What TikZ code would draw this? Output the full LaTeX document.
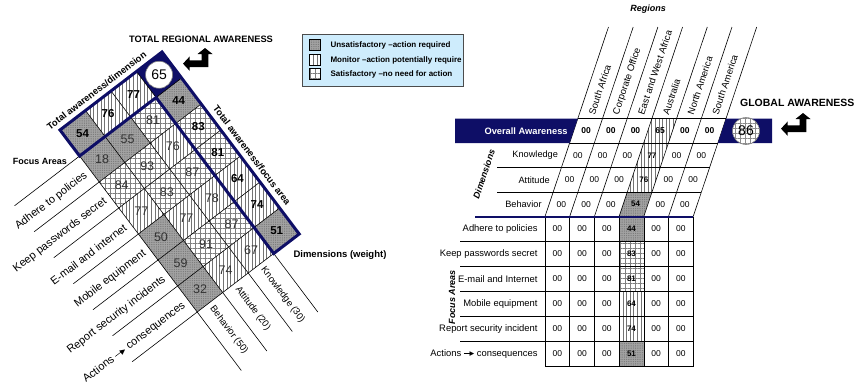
\documentclass[tikz,border=0pt]{standalone}
\usepackage{fontspec}
\setmainfont{Liberation Sans}
\newfontfamily\dejavu{DejaVu Sans}
\usetikzlibrary{patterns.meta}
\definecolor{navy}{RGB}{14,14,102}
\definecolor{legendblue}{RGB}{206,236,252}
\newcommand\fsz[1]{\fontsize{#1}{#1}\selectfont}
\newcommand\actarrow{\rule[0.28em]{0.85em}{0.45pt}\kern-0.25em{\dejavu\char"25B8}}
% bent double-headed arrow; the two arguments give its upper tip
\newcommand\bentarrow[2]{%
  \fill[black] (#1,#2) -- ++(7.5,6) -- ++(-4.15,0) -- ++(0,13) -- ++(-18.65,0)
    -- ++(0,3.85) -- ++(-6.7,-7.2) -- ++(6.7,-7.2) -- ++(0,3.85) -- ++(11.95,0)
    -- ++(0,-6.3) -- ++(-4.15,0) -- cycle;}

\begin{document}
\begin{tikzpicture}[x=1pt,y=-1pt,
  cellbad/.style={preaction={fill=black!36}, pattern={Dots[distance=1.8pt,radius=0.4pt]}, pattern color=black!62},
  cellmon/.style={preaction={fill=white}, pattern={Lines[angle=90,distance=3.6pt,line width=0.5pt]}, pattern color=black!55},
  cellok/.style={preaction={fill=white}, pattern={Hatch[distance=5pt,line width=0.5pt]}, pattern color=black!50},
  gline/.style={draw=black, line width=0.6pt},
  lab/.style={inner sep=1pt}
]
\useasboundingbox (0,0) rectangle (857,383);

% ---------- left: rotated score grid ----------
\begin{scope}[shift={(162,52)}, x={(19.6pt,-26pt)}, y={(-25.5pt,-19.5pt)}]
  \foreach \i/\j/\s in {0/1/cellmon,0/2/cellmon,0/3/cellbad,
     1/0/cellbad,1/1/cellok,1/2/cellbad,1/3/cellbad,
     2/0/cellok,2/1/cellmon,2/2/cellok,2/3/cellok,
     3/0/cellok,3/1/cellok,3/2/cellok,3/3/cellmon,
     4/0/cellmon,4/1/cellmon,4/2/cellmon,4/3/cellbad,
     5/0/cellmon,5/1/cellok,5/2/cellok,5/3/cellbad,
     6/0/cellbad,6/1/cellmon,6/2/cellmon,6/3/cellbad}
    \path[\s] (\i,\j) -- ++(1,0) -- ++(0,1) -- ++(-1,0) -- cycle;
  \fill[navy] (0,0) -- (1,0) -- (1,1) -- (0,1) -- cycle;
  \foreach \i in {1,...,7} \draw[gline] (\i,0) -- (\i,4);
  \foreach \j in {1,...,4} \draw[gline] (0,\j) -- (7,\j);
  % leader lines for the labels
  \foreach \i in {1,...,7} \draw[gline] (\i,4) -- (\i,6.55);
  \foreach \j in {1,...,4} \draw[gline] (7,\j) -- (9.25,\j);
  % totals frame
  \draw[navy, line width=3pt, line join=miter]
    (0,0) -- (0,4) -- (1,4) -- (1,1) -- (7,1) -- (7,0) -- cycle;
  \node[circle, fill=white, draw=black!50, line width=0.6pt, minimum size=27pt,
        inner sep=0pt, font=\fsz{14}] (ctot) at (0.5,0.5) {65};
  \foreach \i/\j/\v in {1/1/81,1/2/55,1/3/18,2/1/76,2/2/93,2/3/84,3/1/87,3/2/83,3/3/77,
                        4/1/78,4/2/77,4/3/50,5/1/87,5/2/91,5/3/59,6/1/67,6/2/74,6/3/32}
    \node[font=\fsz{12.5}, text=black!80] (c\i\j) at (\i+0.5,\j+0.5) {\v};
  \foreach \i/\j/\v in {0/1/77,0/2/76,0/3/54,1/0/44,2/0/83,3/0/81,4/0/64,5/0/74,6/0/51}
    \node[font=\bfseries\fsz{11.5}] (c\i\j) at (\i+0.5,\j+0.5) {\v};
  \foreach \i/\t in {1/Adhere to policies,2/Keep passwords secret,3/E-mail and internet,
                     4/Mobile equipment,5/Report security incidents,6/Actions \actarrow{} consequences}
    \node[lab, anchor=east, rotate=37.4, font=\fsz{11}] (fa\i) at (\i+0.57,4.15) {\t};
  \foreach \j/\t in {1/Knowledge (30),2/Attitude (20),3/Behavior (50)}
    \node[lab, anchor=west, rotate=-53, font=\fsz{9.5}] (dm\j) at (7.12,\j+0.55) {\t};
  \node[rotate=37.4, font=\bfseries\fsz{9.4}] (tad) at (-0.28,2.35) {Total awareness/dimension};
  \node[rotate=-53, font=\bfseries\fsz{9.4}] (taf) at (4.2,-0.3) {Total awareness/focus area};
\end{scope}
\node[font=\bfseries\fsz{9}] (focusL) at (40,161) {Focus Areas};
\node[anchor=west, font=\bfseries\fsz{9.5}] (dimsL) at (290,255) {Dimensions (weight)};
\node[font=\bfseries\fsz{9.3}] (regTitle) at (201,39) {TOTAL REGIONAL AWARENESS};
\bentarrow{205}{48}

% ---------- legend ----------
\node[draw=black!70, fill=legendblue, minimum width=161pt, minimum height=52pt,
      anchor=north west, inner sep=0pt] (legend) at (302,34) {};
\path[cellbad, draw=black, line width=0.5pt] (309,39.5) rectangle (320,50.5);
\path[cellmon, draw=black, line width=0.5pt] (309,54) rectangle (320,65);
\path[cellok, draw=black, line width=0.5pt] (309,68.5) rectangle (320,79.5);
\node[anchor=west, font=\bfseries\fsz{8}] (lg1) at (327,45.5) {Unsatisfactory –action required};
\node[anchor=west, font=\bfseries\fsz{8}] (lg2) at (327,60) {Monitor –action potentially require};
\node[anchor=west, font=\bfseries\fsz{8}] (lg3) at (327,74.5) {Satisfactory –no need for action};

% ---------- right: regional table ----------
\node[font=\bfseries\itshape\fsz{9}] (regions) at (648,9) {Regions};
\begin{scope}[shift={(545,216.5)}, x={(24.7pt,0pt)}, y={(-0.335pt,-1pt)}]
  \path[cellmon] (3,-98) -- (4,-98) -- (4,-73.5) -- (3,-73.5) -- cycle;
  \path[cellmon] (3,-73.5) -- (4,-73.5) -- (4,-49) -- (3,-49) -- cycle;
  \path[cellmon] (3,-49) -- (4,-49) -- (4,-24.5) -- (3,-24.5) -- cycle;
  \path[cellbad] (3,-24.5) -- (4,-24.5) -- (4,0) -- (3,0) -- cycle;
  \foreach \k in {0,...,6} \draw[gline] (\k,-189.5) -- (\k,0);
  \draw[gline] (0,-98) -- (6,-98) (0,-73.5) -- (6,-73.5);
  \foreach \k/\t in {0/South Africa,1/Corporate Office,2/East and West Africa,
                     3/Australia,4/North America,5/South America}
    \node[lab, anchor=west, rotate=71.5, font=\fsz{9.5}] (rg\k) at (\k+0.5,-101) {\t};
  \foreach \k/\v in {0/00,1/00,2/00,3/65,4/00,5/00}
    \node[font=\bfseries\fsz{8.5}] (ov\k) at (\k+0.5,-85.75) {\v};
  \foreach \d/\n in {-61.25/0,-36.75/1,-12.25/2}
    \foreach \k in {0,1,2,4,5}
      \node[font=\fsz{8.5}] (dv\n\k) at (\k+0.5,\d) {00};
  \node[font=\bfseries\fsz{8}] (da0) at (3.5,-61.25) {77};
  \node[font=\bfseries\fsz{8}] (da1) at (3.5,-36.75) {76};
  \node[font=\bfseries\fsz{8}] (da2) at (3.5,-12.25) {54};
  \node[anchor=east, xshift=-4pt, font=\fsz{9.2}] (dlK) at (0,-61.25) {Knowledge};
  \node[anchor=east, xshift=-4pt, font=\fsz{9.2}] (dlA) at (0,-36.75) {Attitude};
  \node[anchor=east, xshift=-4pt, font=\fsz{9.2}] (dlB) at (0,-12.25) {Behavior};
\end{scope}
% dimension row rules
\draw[gline] (497,167.5) -- (709.6,167.5);
\draw[gline] (497,192) -- (701.4,192);
% overall awareness band
\fill[navy] (455,118.5) -- (577.83,118.5) -- (569.62,143) -- (455,143) -- cycle;
\fill[navy] (726.03,118.5) -- (772,118.5) -- (772,143) -- (717.82,143) -- cycle;
\node[anchor=west, font=\bfseries\fsz{9.3}, text=white] (ovl) at (481,131) {Overall Awareness};
\node[circle, draw=black!50, line width=0.6pt, preaction={fill=white},
      pattern={Hatch[distance=5pt,line width=0.5pt]}, pattern color=black!45,
      minimum size=27pt, inner sep=0pt, font=\fsz{14}] (gtot) at (746,131) {86};
\node[anchor=east, font=\bfseries\fsz{10.5}] (glob) at (858,103) {GLOBAL AWARENESS};
\bentarrow{803}{113}
\node[rotate=71.5, font=\bfseries\itshape\fsz{9}] (dims) at (484,174) {Dimensions};

% lower table
\foreach \r/\s in {0/cellbad,1/cellok,2/cellok,3/cellmon,4/cellmon,5/cellbad}
  \path[\s] (619.1,{216.5+25*\r}) rectangle (643.8,{241.5+25*\r});
\foreach \r in {1,...,5} \draw[gline] (460,{216.5+25*\r}) -- (693.2,{216.5+25*\r});
\draw[gline] (545,366.5) -- (693.2,366.5);
\foreach \k in {0,...,6} \draw[gline] ({545+24.7*\k},216.5) -- ({545+24.7*\k},366.5);
\draw[navy, line width=2pt] (475,216.5) -- (693.2,216.5);
\foreach \r/\t in {0/Adhere to policies,1/Keep passwords secret,2/E-mail and Internet,
                   3/Mobile equipment,4/Report security incident,5/Actions \actarrow{} consequences}
  \node[anchor=east, font=\fsz{9.4}] (rf\r) at (541,{229+25*\r}) {\t};
\foreach \r in {0,...,5}
  \foreach \k in {0,1,2,4,5}
    \node[font=\fsz{8.5}] (v\r\k) at ({557.35+24.7*\k},{229+25*\r}) {00};
\foreach \r/\v in {0/44,1/83,2/81,3/64,4/74,5/51}
  \node[font=\bfseries\fsz{8}] (va\r) at (631.45,{229+25*\r}) {\v};
\node[rotate=90, font=\bfseries\itshape\fsz{9}] (focusR) at (452,297) {Focus Areas};
\end{tikzpicture}
\end{document}
